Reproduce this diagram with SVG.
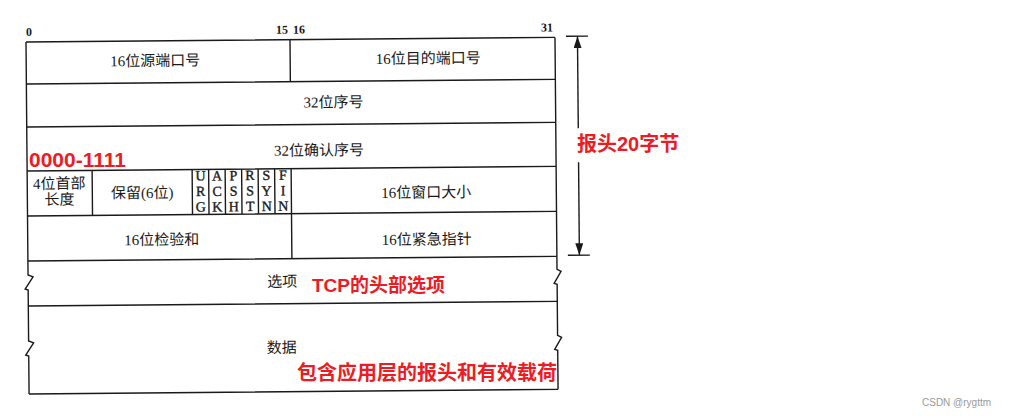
<svg xmlns="http://www.w3.org/2000/svg" width="1015" height="416" viewBox="0 0 1015 416">
<style>
.ln{fill:none;stroke:#1a1a1a;stroke-width:1.4}
.t{font-family:"Liberation Serif","Noto Sans CJK SC",serif;font-size:15px;fill:#1a1a1a;text-anchor:middle}
.n{font-family:"Liberation Serif",serif;font-size:12px;font-weight:bold;fill:#1a1a1a}
.f{font-family:"Liberation Serif",serif;font-size:14px;fill:#1a1a1a;stroke:#1a1a1a;stroke-width:0.35;text-anchor:middle}
.r{font-family:"Liberation Sans","Noto Sans CJK SC",sans-serif;font-weight:bold;fill:#ed1c24}
.w{font-family:"Liberation Sans",sans-serif;font-size:10px;fill:#999}
</style>
<defs>
<marker id="ah" viewBox="0 0 12 8" refX="12" refY="4" markerWidth="12" markerHeight="8" markerUnits="userSpaceOnUse" orient="auto-start-reverse">
<path d="M0,0 L12,4 L0,8 z" fill="#1a1a1a"/>
</marker>
</defs>
<g transform="rotate(-0.5 26 42)">
<g id="frame">
<path class="ln" d="M26,42 H555 M26,84 H555 M26,127 H555 M26,171 H555 M26,216 H555 M26,261 H555 M26,306 H555 M26,394 H555"/>
<path class="ln" d="M26,42 V275 L31,277 L23,289 L26,290 V341 L31,343 L23,355 L26,356 V394"/>
<path class="ln" d="M555,42 V274 L559,276 L552,288 L555,289 V340 L559,342 L552,354 L555,355 V394"/>
<path class="ln" d="M290,42 V84 M290,216 V261 M91,171 V216 M191,171 V216 M207.5,171 V216 M224,171 V216 M240.5,171 V216 M257,171 V216 M273.5,171 V216 M290,171 V216"/>
</g>
<g id="bits">
<text class="n" x="26" y="36">0</text>
<text class="n" x="288" y="36" text-anchor="end">15</text>
<text class="n" x="293" y="36">16</text>
<text class="n" x="553" y="36" text-anchor="end">31</text>
</g>
<g id="src-port"><text class="t" x="155" y="67">16位源端口号</text></g>
<g id="dst-port"><text class="t" x="428" y="67">16位目的端口号</text></g>
<g id="seq"><text class="t" x="333" y="110">32位序号</text></g>
<g id="ack"><text class="t" x="318" y="158">32位确认序号</text></g>
<g id="hlen"><text class="t" x="58" y="189">4位首部</text><text class="t" x="58" y="205">长度</text></g>
<g id="reserved"><text class="t" x="141" y="199">保留(6位)</text></g>
<g id="flags">
<text class="f" x="199.25" y="182">U</text><text class="f" x="199.25" y="197.5">R</text><text class="f" x="199.25" y="213">G</text>
<text class="f" x="215.75" y="182">A</text><text class="f" x="215.75" y="197.5">C</text><text class="f" x="215.75" y="213">K</text>
<text class="f" x="232.25" y="182">P</text><text class="f" x="232.25" y="197.5">S</text><text class="f" x="232.25" y="213">H</text>
<text class="f" x="248.75" y="182">R</text><text class="f" x="248.75" y="197.5">S</text><text class="f" x="248.75" y="213">T</text>
<text class="f" x="265.25" y="182">S</text><text class="f" x="265.25" y="197.5">Y</text><text class="f" x="265.25" y="213">N</text>
<text class="f" x="281.75" y="182">F</text><text class="f" x="281.75" y="197.5">I</text><text class="f" x="281.75" y="213">N</text>
</g>
<g id="window"><text class="t" x="425" y="201">16位窗口大小</text></g>
<g id="checksum"><text class="t" x="160" y="246">16位检验和</text></g>
<g id="urgent"><text class="t" x="425" y="248">16位紧急指针</text></g>
<g id="options"><text class="t" x="280" y="289">选项</text></g>
<g id="data"><text class="t" x="279" y="355">数据</text></g>
<g id="connectors">
<path class="ln" d="M566,41 H588 M566,260 H588"/>
<path class="ln" d="M577.5,41 V133" marker-start="url(#ah)"/>
<path class="ln" d="M577.5,167 V260" marker-end="url(#ah)"/>
</g>
</g>
<g id="annotations">
<text class="r" x="29" y="167" font-size="21">0000-1111</text>
<text class="r" x="577" y="151" font-size="20">报头20字节</text>
<text class="r" x="312" y="292" font-size="19">TCP的头部选项</text>
<text class="r" x="297" y="380" font-size="20">包含应用层的报头和有效载荷</text>
</g>
<text class="w" x="922" y="406">CSDN @rygttm</text>
</svg>
